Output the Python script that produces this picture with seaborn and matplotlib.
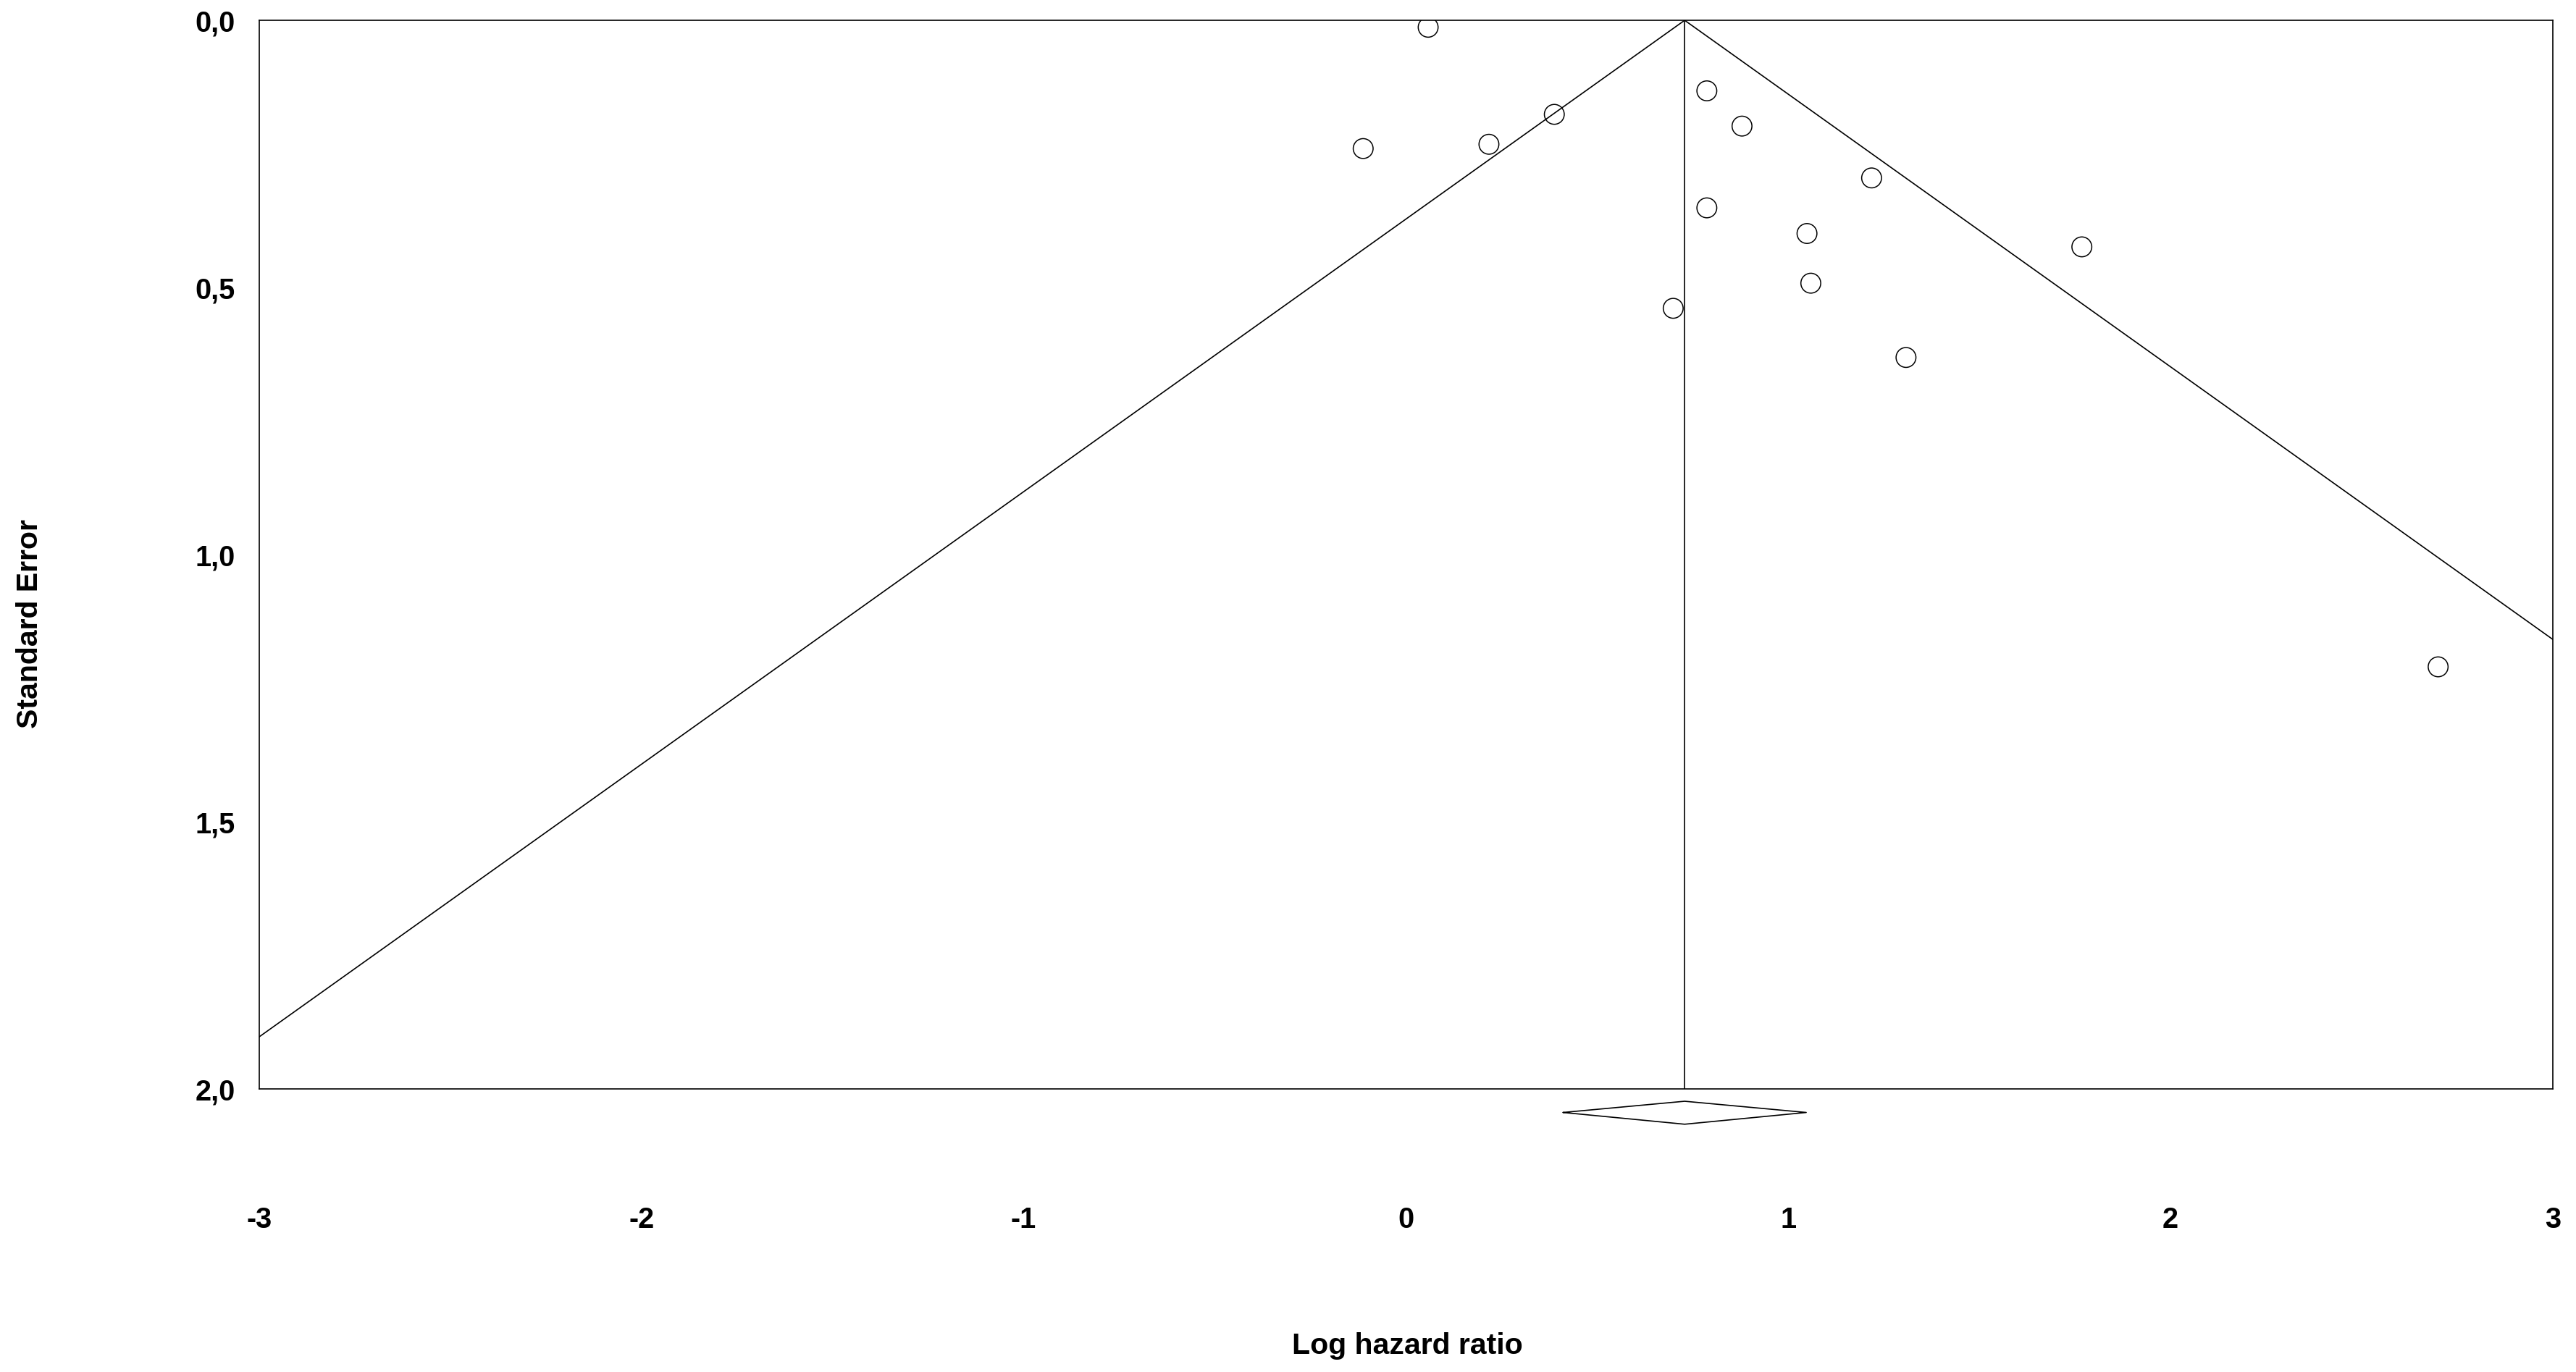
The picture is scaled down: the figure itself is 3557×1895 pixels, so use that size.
import numpy as np
import pandas as pd
import matplotlib
matplotlib.use("Agg")
import matplotlib.pyplot as plt
import seaborn as sns

# study estimates
log_hr = [0.058, -0.112, 0.217, 0.388, 0.787, 0.879, 1.218, 0.787, 1.049, 1.768, 1.059, 0.699, 1.308, 2.700]
std_err = [0.013, 0.240, 0.232, 0.176, 0.132, 0.198, 0.295, 0.351, 0.399, 0.424, 0.492, 0.539, 0.631, 1.210]

# pooled estimate and its 95% CI (diamond)
pooled = 0.729
ci_low = 0.411
ci_high = 1.047

x_ticks = [-3, -2, -1, 0, 1, 2, 3]
x_labels = ["-3", "-2", "-1", "0", "1", "2", "3"]
y_ticks = [0.0, 0.5, 1.0, 1.5, 2.0]
y_labels = ["0,0", "0,5", "1,0", "1,5", "2,0"]

sns.set_theme(style="white")
plt.rcParams["font.family"] = ["Liberation Sans", "DejaVu Sans"]
plt.rcParams["font.weight"] = "bold"
plt.rcParams["axes.unicode_minus"] = False

df = pd.DataFrame({"log_hr": log_hr, "se": std_err})

fig = plt.figure(figsize=(35.57, 18.95), dpi=100)
ax = fig.add_axes([0.1006, 0.2063, 0.8904, 0.7789])

# funnel (pseudo 95% limits) and pooled line
se_span = np.array([0.0, 2.0])
ax.plot(pooled - 1.96 * se_span, se_span, color="black", lw=1.2)
ax.plot(pooled + 1.96 * se_span, se_span, color="black", lw=1.2)
ax.plot([pooled, pooled], [0.0, 2.0], color="black", lw=1.2)

sns.scatterplot(data=df, x="log_hr", y="se", ax=ax, s=390, marker="o",
                facecolors="none", edgecolors="black", linewidth=1.1, zorder=3)

# diamond for pooled estimate below the axis
dia_x = [ci_low, pooled, ci_high, pooled, ci_low]
dia_y = [2.044, 2.023, 2.044, 2.066, 2.044]
ax.plot(dia_x, dia_y, color="black", lw=1.2, clip_on=False)

ax.set_xlim(-3, 3)
ax.set_ylim(2.0, 0.0)

ax.set_xticks(x_ticks)
ax.set_xticklabels(x_labels)
ax.set_yticks(y_ticks)
ax.set_yticklabels(y_labels)
ax.tick_params(axis="x", direction="inout", length=11, width=0.9, pad=111,
               labelsize=28.5, colors="black")
ax.tick_params(axis="y", direction="out", length=5.8, width=0.9, pad=18,
               labelsize=28.5, colors="black")
for lab in ax.get_xticklabels() + ax.get_yticklabels():
    lab.set_fontweight("bold")

for side in ["left", "right", "top", "bottom"]:
    ax.spines[side].set_visible(True)
    ax.spines[side].set_color("black")
    ax.spines[side].set_linewidth(1.2)

ax.set_xlabel("Log hazard ratio", fontsize=29.5, fontweight="bold", color="black")
ax.xaxis.set_label_coords(0.5005, -0.248)
ax.xaxis.label.set_va("baseline")
ax.set_ylabel("Standard Error", fontsize=29.5, fontweight="bold", color="black")
ax.yaxis.set_label_coords(-0.0999, 0.4356)
ax.yaxis.label.set_va("center")

fig.savefig("out.png", dpi=100, facecolor="white")
